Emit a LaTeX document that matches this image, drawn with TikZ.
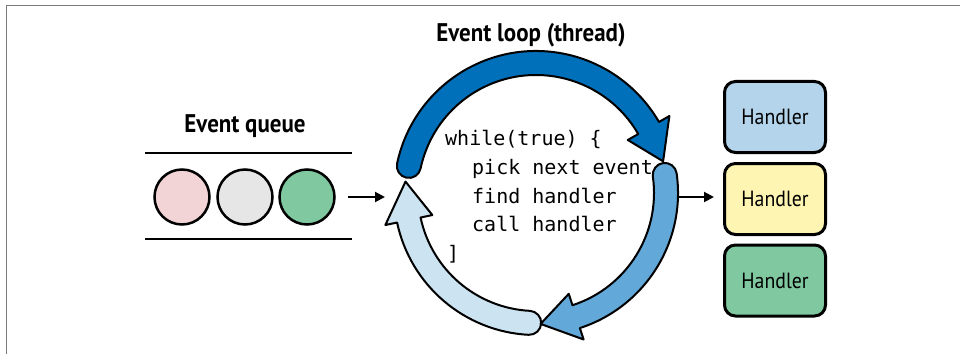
\documentclass[tikz,border=0pt]{standalone}
\usepackage{fontspec}
\setmainfont{PT Sans}[FakeStretch=0.9]
\newfontfamily\codefont{DejaVu Sans Mono}
\usetikzlibrary{arrows.meta}
\definecolor{frameGray}{HTML}{7A7A7A}
\definecolor{darkBlue}{HTML}{0070BA}
\definecolor{midBlue}{HTML}{62A8D8}
\definecolor{lightBlue}{HTML}{CCE3F2}
\definecolor{hBlue}{HTML}{B3D4EA}
\definecolor{hYellow}{HTML}{FFF5B3}
\definecolor{hGreen}{HTML}{80C9A0}
\definecolor{qPink}{HTML}{F2D4D7}
\definecolor{qGray}{HTML}{E6E6E6}
\tikzset{
  titletext/.style={font=\bfseries\fontsize{25.5}{30}\selectfont, inner sep=0pt},
  codetext/.style={font=\codefont\fontsize{20}{28}\selectfont, inner sep=0pt},
  handlerbox/.style={draw=black, line width=3pt, rounded corners=11pt, minimum width=101pt, minimum height=71pt, inner sep=0pt, font=\fontsize{22}{26}\selectfont},
  qcircle/.style={circle, draw=black, line width=2.5pt, minimum size=55pt, inner sep=0pt},
  qline/.style={line width=2.5pt},
  conn/.style={line width=2pt, -{Triangle[length=10pt,width=10pt]}},
  loopline/.style={draw=black, line width=2pt, line join=round},
}
\newcommand\drawLoopArrow[4]{%
  \filldraw[loopline, fill=#1] (#2:142) arc[start angle=#2, end angle=#3, radius=142]
    -- (#3:154) -- (#4:131) -- (#3:106) -- (#3:118)
    arc[start angle=#3, end angle=#2, radius=118]
    arc[start angle=#2+180, end angle=#2, radius=12] -- cycle;}
\begin{document}
\begin{tikzpicture}[x=1pt,y=1pt]
\useasboundingbox (0,0) rectangle (960,354);
% frame
\draw[frameGray, line width=1pt] (6,0) -- (6,348) -- (960,348);
% titles
\node[titletext, anchor=base] (looptitle) at (531,312) {Event loop (thread)};
\node[titletext, anchor=base] (queuetitle) at (245,222) {Event queue};
% queue
\draw[qline] (145,201) -- (352,201);
\draw[qline] (145,115) -- (352,115);
\node[qcircle, fill=qPink] (c1) at (182,157) {};
\node[qcircle, fill=qGray] (c2) at (245,157) {};
\node[qcircle, fill=hGreen] (c3) at (307,157) {};
% loop arrows
\begin{scope}[shift={(536,161)}]
  \drawLoopArrow{lightBlue}{267}{192}{175}
  \drawLoopArrow{darkBlue}{168}{30}{14}
  \drawLoopArrow{midBlue}{8}{-72}{-88}
\end{scope}
% code
\node[codetext, anchor=base west] (l1) at (445,209) {while(true) \{};
\node[codetext, anchor=base west] (l2) at (472,180) {pick next event};
\node[codetext, anchor=base west] (l3) at (472,151) {find handler};
\node[codetext, anchor=base west] (l4) at (472,123) {call handler};
\node[codetext, anchor=base west] (l5) at (447,94) {]};
% handlers
\node[handlerbox, fill=hBlue] (h1) at (775,237) {Handler};
\node[handlerbox, fill=hYellow] (h2) at (775,155) {Handler};
\node[handlerbox, fill=hGreen] (h3) at (775,73.5) {Handler};
% connectors
\coordinate (qout) at (348,157);
\coordinate (loopin) at (385,157);
\coordinate (loopout) at (678,157);
\draw[conn] (qout) -- (loopin);
\draw[conn, shorten >=9pt] (loopout) -- (loopout -| h2.west);
\end{tikzpicture}
\end{document}
